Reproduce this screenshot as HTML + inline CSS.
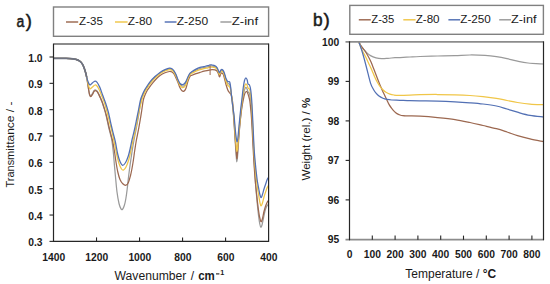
<!DOCTYPE html>
<html><head><meta charset="utf-8"><title>figure</title>
<style>
html,body{margin:0;padding:0;background:#fff;}
body{width:550px;height:284px;overflow:hidden;font-family:"Liberation Sans",sans-serif;}
svg{display:block;}
</style></head><body>
<svg width="550" height="284" viewBox="0 0 550 284">
<rect x="0" y="0" width="550" height="284" fill="#ffffff"/>
<g font-family="&quot;Liberation Sans&quot;, sans-serif">
<text x="16.40" y="26.60" font-size="17.20" font-weight="normal" text-anchor="start" fill="#1a1a1a" textLength="7.80" lengthAdjust="spacingAndGlyphs" stroke="#1a1a1a" stroke-width="0.55">a</text>
<text x="25.80" y="26.50" font-size="18.60" font-weight="normal" text-anchor="start" fill="#1a1a1a" stroke="#1a1a1a" stroke-width="0.45">)</text>
<rect x="53.5" y="7.0" width="215.1" height="29.3" fill="none" stroke="#808080" stroke-width="1.4"/>
<line x1="66.0" y1="22" x2="78.2" y2="22" stroke="#9c6850" stroke-width="1.45"/>
<text x="79.10" y="25.40" font-size="11.60" font-weight="normal" text-anchor="start" fill="#1a1a1a" textLength="23.80" lengthAdjust="spacingAndGlyphs" >Z-35</text>
<line x1="115.0" y1="22" x2="127.6" y2="22" stroke="#f0c648" stroke-width="1.45"/>
<text x="127.80" y="25.40" font-size="11.60" font-weight="normal" text-anchor="start" fill="#1a1a1a" textLength="24.40" lengthAdjust="spacingAndGlyphs" >Z-80</text>
<line x1="164.7" y1="22" x2="176.5" y2="22" stroke="#5270b4" stroke-width="1.45"/>
<text x="176.70" y="25.40" font-size="11.60" font-weight="normal" text-anchor="start" fill="#1a1a1a" textLength="31.40" lengthAdjust="spacingAndGlyphs" >Z-250</text>
<line x1="220.4" y1="22" x2="231.5" y2="22" stroke="#9a9a9a" stroke-width="1.45"/>
<text x="231.70" y="25.40" font-size="11.60" font-weight="normal" text-anchor="start" fill="#1a1a1a" textLength="26.40" lengthAdjust="spacingAndGlyphs" >Z-inf</text>
<clipPath id="ca"><rect x="53.5" y="44" width="215" height="197.4"/></clipPath>
<g clip-path="url(#ca)" fill="none" stroke-width="1.25" stroke-linejoin="round">
<path d="M53.50,58.30 C54.58,58.30 57.92,58.28 60.00,58.30 C62.08,58.32 64.17,58.34 66.00,58.40 C67.83,58.46 69.58,58.53 71.00,58.65 C72.42,58.77 73.45,58.89 74.50,59.10 C75.55,59.31 76.45,59.57 77.30,59.90 C78.15,60.23 78.90,60.62 79.60,61.10 C80.30,61.58 80.93,62.12 81.50,62.80 C82.07,63.48 82.50,64.17 83.00,65.20 C83.50,66.23 84.00,67.53 84.50,69.00 C85.00,70.47 85.58,72.28 86.00,74.00 C86.42,75.72 86.70,77.60 87.00,79.30 C87.30,81.00 87.53,82.48 87.80,84.20 C88.07,85.92 88.32,87.93 88.60,89.60 C88.88,91.27 89.15,93.13 89.50,94.20 C89.85,95.27 90.22,96.10 90.70,96.00 C91.18,95.90 91.85,94.50 92.40,93.60 C92.95,92.70 93.52,91.23 94.00,90.60 C94.48,89.97 94.80,89.75 95.30,89.80 C95.80,89.85 96.43,90.23 97.00,90.90 C97.57,91.57 98.18,92.78 98.70,93.80 C99.22,94.82 99.60,95.80 100.10,97.00 C100.60,98.20 101.08,99.25 101.70,101.00 C102.32,102.75 103.08,105.17 103.80,107.50 C104.52,109.83 105.23,111.92 106.00,115.00 C106.77,118.08 107.67,122.83 108.40,126.00 C109.13,129.17 109.83,131.67 110.40,134.00 C110.97,136.33 111.32,137.00 111.80,140.00 C112.28,143.00 112.87,147.83 113.30,152.00 C113.73,156.17 114.02,160.67 114.40,165.00 C114.78,169.33 115.17,173.50 115.60,178.00 C116.03,182.50 116.43,187.75 117.00,192.00 C117.57,196.25 118.33,200.70 119.00,203.50 C119.67,206.30 120.40,207.85 121.00,208.80 C121.60,209.75 122.05,209.75 122.60,209.20 C123.15,208.65 123.77,207.20 124.30,205.50 C124.83,203.80 125.32,201.75 125.80,199.00 C126.28,196.25 126.77,192.50 127.20,189.00 C127.63,185.50 128.03,181.17 128.40,178.00 C128.77,174.83 129.00,173.00 129.40,170.00 C129.80,167.00 130.32,163.33 130.80,160.00 C131.28,156.67 131.77,153.33 132.30,150.00 C132.83,146.67 133.38,143.33 134.00,140.00 C134.62,136.67 135.33,133.50 136.00,130.00 C136.67,126.50 137.37,122.67 138.00,119.00 C138.63,115.33 139.28,111.17 139.80,108.00 C140.32,104.83 140.57,102.23 141.12,100.00 C141.66,97.77 142.39,96.23 143.05,94.61 C143.71,92.99 144.40,91.53 145.08,90.26 C145.77,89.00 146.34,88.30 147.17,87.04 C148.01,85.78 148.81,84.30 150.11,82.68 C151.41,81.06 153.35,78.91 155.00,77.31 C156.65,75.72 158.33,74.27 160.00,73.10 C161.67,71.94 163.42,71.00 165.00,70.30 C166.58,69.61 168.33,69.06 169.50,68.93 C170.67,68.79 171.25,69.06 172.00,69.50 C172.75,69.95 173.33,70.61 174.00,71.58 C174.67,72.56 175.33,73.88 176.00,75.35 C176.67,76.82 177.33,78.88 178.00,80.39 C178.67,81.91 179.33,83.52 180.00,84.45 C180.67,85.37 181.33,85.77 182.00,85.96 C182.67,86.16 183.33,86.15 184.00,85.64 C184.67,85.13 185.33,84.25 186.00,82.92 C186.67,81.59 187.33,79.15 188.00,77.65 C188.67,76.14 189.33,74.76 190.00,73.88 C190.67,73.01 191.00,73.02 192.00,72.39 C193.00,71.76 194.67,70.74 196.00,70.09 C197.33,69.44 198.67,68.91 200.00,68.50 C201.33,68.09 202.67,67.91 204.00,67.61 C205.33,67.32 207.00,67.00 208.00,66.73 C209.00,66.47 209.33,66.14 210.00,66.02 C210.67,65.90 211.17,65.91 212.00,66.01 C212.83,66.11 214.17,66.23 215.00,66.62 C215.83,67.02 216.42,67.58 217.00,68.39 C217.58,69.21 218.07,70.64 218.50,71.50 C218.93,72.37 219.18,73.76 219.60,73.60 C220.02,73.44 220.43,70.98 221.00,70.55 C221.57,70.12 222.42,70.36 223.00,71.04 C223.58,71.71 224.00,73.14 224.50,74.60 C225.00,76.06 225.45,78.35 226.00,79.82 C226.55,81.29 227.21,82.73 227.80,83.45 C228.39,84.17 229.07,83.44 229.53,84.15 C230.00,84.87 230.27,86.14 230.57,87.76 C230.86,89.38 231.02,91.51 231.31,93.88 C231.60,96.25 231.84,97.31 232.29,102.00 C232.74,106.69 233.50,115.17 234.00,122.00 C234.50,128.83 234.92,137.17 235.30,143.00 C235.68,148.83 236.05,153.87 236.30,157.00 C236.55,160.13 236.60,161.80 236.80,161.80 C237.00,161.80 237.18,160.63 237.50,157.00 C237.82,153.37 238.25,146.00 238.70,140.00 C239.15,134.00 239.68,126.67 240.20,121.00 C240.72,115.33 241.30,110.17 241.80,106.00 C242.30,101.83 242.75,98.70 243.20,96.00 C243.65,93.30 244.05,91.23 244.50,89.80 C244.95,88.37 245.45,87.50 245.90,87.40 C246.35,87.30 246.85,88.43 247.20,89.20 C247.55,89.97 247.67,91.37 248.00,92.00 C248.33,92.63 248.83,92.17 249.20,93.00 C249.57,93.83 249.90,95.17 250.20,97.00 C250.50,98.83 250.72,100.83 251.00,104.00 C251.28,107.17 251.57,110.33 251.90,116.00 C252.23,121.67 252.62,130.33 253.00,138.00 C253.38,145.67 253.77,154.33 254.20,162.00 C254.63,169.67 255.10,177.17 255.60,184.00 C256.10,190.83 256.70,197.67 257.20,203.00 C257.70,208.33 258.17,212.50 258.60,216.00 C259.03,219.50 259.43,222.13 259.80,224.00 C260.17,225.87 260.43,227.03 260.80,227.20 C261.17,227.37 261.57,226.45 262.00,225.00 C262.43,223.55 262.90,220.83 263.40,218.50 C263.90,216.17 264.47,213.00 265.00,211.00 C265.53,209.00 266.00,207.67 266.60,206.50 C267.20,205.33 268.27,204.42 268.60,204.00" stroke="#9a9a9a"/>
<path d="M53.50,58.30 C54.58,58.30 57.92,58.28 60.00,58.30 C62.08,58.32 64.17,58.34 66.00,58.40 C67.83,58.46 69.58,58.53 71.00,58.65 C72.42,58.77 73.45,58.89 74.50,59.10 C75.55,59.31 76.45,59.57 77.30,59.90 C78.15,60.23 78.90,60.62 79.60,61.10 C80.30,61.58 80.93,62.12 81.50,62.80 C82.07,63.48 82.50,64.17 83.00,65.20 C83.50,66.23 84.00,67.53 84.50,69.00 C85.00,70.47 85.57,72.25 86.00,74.00 C86.43,75.75 86.78,77.75 87.10,79.50 C87.42,81.25 87.63,82.75 87.90,84.50 C88.17,86.25 88.42,88.28 88.70,90.00 C88.98,91.72 89.25,93.70 89.60,94.80 C89.95,95.90 90.32,96.67 90.80,96.60 C91.28,96.53 91.95,95.27 92.50,94.40 C93.05,93.53 93.62,92.03 94.10,91.40 C94.58,90.77 94.90,90.55 95.40,90.60 C95.90,90.65 96.53,91.03 97.10,91.70 C97.67,92.37 98.27,93.58 98.80,94.60 C99.33,95.62 99.77,96.65 100.30,97.80 C100.83,98.95 101.35,99.80 102.00,101.50 C102.65,103.20 103.45,105.58 104.20,108.00 C104.95,110.42 105.70,112.83 106.50,116.00 C107.30,119.17 108.25,123.83 109.00,127.00 C109.75,130.17 110.40,132.67 111.00,135.00 C111.60,137.33 112.03,138.33 112.60,141.00 C113.17,143.67 113.83,147.50 114.40,151.00 C114.97,154.50 115.43,158.50 116.00,162.00 C116.57,165.50 117.13,169.08 117.80,172.00 C118.47,174.92 119.17,177.53 120.00,179.50 C120.83,181.47 121.80,182.85 122.80,183.80 C123.80,184.75 125.07,185.42 126.00,185.20 C126.93,184.98 127.67,184.03 128.40,182.50 C129.13,180.97 129.82,178.25 130.40,176.00 C130.98,173.75 131.40,171.67 131.90,169.00 C132.40,166.33 132.92,163.17 133.40,160.00 C133.88,156.83 134.30,153.33 134.80,150.00 C135.30,146.67 135.80,143.33 136.40,140.00 C137.00,136.67 137.77,133.33 138.40,130.00 C139.03,126.67 139.63,123.33 140.20,120.00 C140.77,116.67 141.28,113.33 141.80,110.00 C142.32,106.67 142.77,102.50 143.30,100.00 C143.83,97.50 144.42,96.47 145.00,95.00 C145.58,93.53 146.22,92.27 146.80,91.20 C147.38,90.13 147.88,89.50 148.50,88.60 C149.12,87.70 149.42,87.20 150.50,85.80 C151.58,84.40 153.42,81.90 155.00,80.20 C156.58,78.50 158.33,76.83 160.00,75.60 C161.67,74.37 163.42,73.48 165.00,72.80 C166.58,72.12 168.33,71.63 169.50,71.50 C170.67,71.37 171.25,71.58 172.00,72.00 C172.75,72.42 173.33,73.00 174.00,74.00 C174.67,75.00 175.33,76.58 176.00,78.00 C176.67,79.42 177.33,80.87 178.00,82.50 C178.67,84.13 179.33,86.42 180.00,87.80 C180.67,89.18 181.33,90.25 182.00,90.80 C182.67,91.35 183.33,91.52 184.00,91.10 C184.67,90.68 185.33,89.98 186.00,88.30 C186.67,86.62 187.33,83.00 188.00,81.00 C188.67,79.00 189.33,77.27 190.00,76.30 C190.67,75.33 191.00,75.65 192.00,75.20 C193.00,74.75 194.67,74.07 196.00,73.60 C197.33,73.13 198.67,72.80 200.00,72.40 C201.33,72.00 202.67,71.53 204.00,71.20 C205.33,70.87 207.00,70.60 208.00,70.40 C209.00,70.20 209.33,70.13 210.00,70.00 C210.67,69.87 211.17,69.62 212.00,69.60 C212.83,69.58 214.17,69.63 215.00,69.90 C215.83,70.17 216.42,70.52 217.00,71.20 C217.58,71.88 218.07,73.07 218.50,74.00 C218.93,74.93 219.18,76.93 219.60,76.80 C220.02,76.67 220.43,73.67 221.00,73.20 C221.57,72.73 222.42,73.12 223.00,74.00 C223.58,74.88 224.00,76.75 224.50,78.50 C225.00,80.25 225.45,82.58 226.00,84.50 C226.55,86.42 227.25,88.67 227.80,90.00 C228.35,91.33 228.80,91.83 229.30,92.50 C229.80,93.17 230.40,93.25 230.80,94.00 C231.20,94.75 231.40,95.67 231.70,97.00 C232.00,98.33 232.22,98.00 232.60,102.00 C232.98,106.00 233.55,114.67 234.00,121.00 C234.45,127.33 234.92,134.67 235.30,140.00 C235.68,145.33 236.05,149.92 236.30,153.00 C236.55,156.08 236.62,158.33 236.80,158.50 C236.98,158.67 237.10,157.42 237.40,154.00 C237.70,150.58 238.13,143.50 238.60,138.00 C239.07,132.50 239.67,126.00 240.20,121.00 C240.73,116.00 241.28,111.58 241.80,108.00 C242.32,104.42 242.80,101.90 243.30,99.50 C243.80,97.10 244.30,94.93 244.80,93.60 C245.30,92.27 245.83,91.60 246.30,91.50 C246.77,91.40 247.18,92.17 247.60,93.00 C248.02,93.83 248.43,95.17 248.80,96.50 C249.17,97.83 249.50,99.08 249.80,101.00 C250.10,102.92 250.32,105.17 250.60,108.00 C250.88,110.83 251.17,113.00 251.50,118.00 C251.83,123.00 252.22,131.00 252.60,138.00 C252.98,145.00 253.37,153.00 253.80,160.00 C254.23,167.00 254.70,174.00 255.20,180.00 C255.70,186.00 256.30,191.33 256.80,196.00 C257.30,200.67 257.73,204.50 258.20,208.00 C258.67,211.50 259.12,214.70 259.60,217.00 C260.08,219.30 260.62,221.55 261.10,221.80 C261.58,222.05 262.02,220.22 262.50,218.50 C262.98,216.78 263.48,213.58 264.00,211.50 C264.52,209.42 265.07,207.55 265.60,206.00 C266.13,204.45 266.70,203.12 267.20,202.20 C267.70,201.28 268.37,200.78 268.60,200.50" stroke="#9c6850"/>
<path d="M53.50,58.30 C54.58,58.30 57.92,58.28 60.00,58.30 C62.08,58.32 64.17,58.34 66.00,58.40 C67.83,58.46 69.58,58.53 71.00,58.65 C72.42,58.77 73.45,58.89 74.50,59.10 C75.55,59.31 76.45,59.57 77.30,59.90 C78.15,60.23 78.90,60.62 79.60,61.10 C80.30,61.58 80.93,62.12 81.50,62.80 C82.07,63.48 82.50,64.17 83.00,65.20 C83.50,66.23 84.00,67.53 84.50,69.00 C85.00,70.47 85.55,72.25 86.00,74.00 C86.45,75.75 86.83,77.83 87.20,79.50 C87.57,81.17 87.87,82.65 88.20,84.00 C88.53,85.35 88.83,86.80 89.20,87.60 C89.57,88.40 89.85,88.90 90.40,88.80 C90.95,88.70 91.73,87.63 92.50,87.00 C93.27,86.37 94.25,85.17 95.00,85.00 C95.75,84.83 96.37,85.33 97.00,86.00 C97.63,86.67 98.27,88.00 98.80,89.00 C99.33,90.00 99.70,90.83 100.20,92.00 C100.70,93.17 101.08,94.17 101.80,96.00 C102.52,97.83 103.58,100.17 104.50,103.00 C105.42,105.83 106.33,109.33 107.30,113.00 C108.27,116.67 109.43,121.50 110.30,125.00 C111.17,128.50 111.85,131.17 112.50,134.00 C113.15,136.83 113.52,138.67 114.20,142.00 C114.88,145.33 115.80,150.42 116.60,154.00 C117.40,157.58 118.18,161.00 119.00,163.50 C119.82,166.00 120.73,167.92 121.50,169.00 C122.27,170.08 122.85,170.33 123.60,170.00 C124.35,169.67 125.15,168.67 126.00,167.00 C126.85,165.33 127.90,162.67 128.70,160.00 C129.50,157.33 130.13,154.00 130.80,151.00 C131.47,148.00 132.07,144.83 132.70,142.00 C133.33,139.17 133.95,137.00 134.60,134.00 C135.25,131.00 135.93,127.50 136.60,124.00 C137.27,120.50 137.74,117.00 138.60,113.00 C139.46,109.00 140.92,103.05 141.76,100.00 C142.60,96.95 142.99,96.30 143.62,94.72 C144.26,93.15 144.93,91.74 145.59,90.54 C146.25,89.34 146.79,88.66 147.56,87.50 C148.34,86.34 148.99,85.16 150.22,83.60 C151.46,82.04 153.37,79.79 155.00,78.17 C156.63,76.54 158.33,75.03 160.00,73.84 C161.67,72.65 163.42,71.73 165.00,71.04 C166.58,70.35 168.33,69.82 169.50,69.69 C170.67,69.55 171.25,69.80 172.00,70.24 C172.75,70.67 173.33,71.31 174.00,72.30 C174.67,73.28 175.33,74.68 176.00,76.13 C176.67,77.58 177.33,79.46 178.00,81.02 C178.67,82.57 179.33,84.37 180.00,85.44 C180.67,86.50 181.33,87.09 182.00,87.39 C182.67,87.69 183.33,87.73 184.00,87.25 C184.67,86.77 185.33,85.94 186.00,84.50 C186.67,83.07 187.33,80.29 188.00,78.64 C188.67,76.98 189.33,75.50 190.00,74.59 C190.67,73.69 191.00,73.80 192.00,73.22 C193.00,72.64 194.67,71.72 196.00,71.12 C197.33,70.53 198.67,70.06 200.00,69.65 C201.33,69.24 202.67,68.98 204.00,68.67 C205.33,68.36 207.00,68.06 208.00,67.81 C209.00,67.57 209.33,67.32 210.00,67.20 C210.67,67.07 211.17,67.00 212.00,67.07 C212.83,67.14 214.17,67.23 215.00,67.59 C215.83,67.95 216.42,68.44 217.00,69.22 C217.58,70.00 218.07,71.35 218.50,72.24 C218.93,73.13 219.18,74.70 219.60,74.55 C220.02,74.39 220.43,71.77 221.00,71.33 C221.57,70.89 222.42,71.17 223.00,71.91 C223.58,72.65 224.00,74.20 224.50,75.75 C225.00,77.30 225.45,79.59 226.00,81.20 C226.55,82.81 227.22,84.48 227.80,85.38 C228.38,86.28 228.99,85.91 229.47,86.61 C229.94,87.32 230.31,88.24 230.63,89.60 C230.96,90.96 231.13,92.73 231.42,94.80 C231.72,96.87 231.95,98.13 232.38,102.00 C232.81,105.87 233.51,112.33 234.00,118.00 C234.49,123.67 234.90,131.00 235.30,136.00 C235.70,141.00 236.13,145.42 236.40,148.00 C236.67,150.58 236.70,151.50 236.90,151.50 C237.10,151.50 237.28,151.08 237.60,148.00 C237.92,144.92 238.33,138.33 238.80,133.00 C239.27,127.67 239.90,120.83 240.40,116.00 C240.90,111.17 241.33,107.83 241.80,104.00 C242.27,100.17 242.75,95.93 243.20,93.00 C243.65,90.07 244.05,87.93 244.50,86.40 C244.95,84.87 245.45,83.95 245.90,83.80 C246.35,83.65 246.85,84.80 247.20,85.50 C247.55,86.20 247.65,87.42 248.00,88.00 C248.35,88.58 248.93,88.33 249.30,89.00 C249.67,89.67 249.92,90.50 250.20,92.00 C250.48,93.50 250.73,95.33 251.00,98.00 C251.27,100.67 251.50,103.00 251.80,108.00 C252.10,113.00 252.43,120.67 252.80,128.00 C253.17,135.33 253.57,145.00 254.00,152.00 C254.43,159.00 254.87,164.33 255.40,170.00 C255.93,175.67 256.63,181.67 257.20,186.00 C257.77,190.33 258.33,193.17 258.80,196.00 C259.27,198.83 259.62,201.33 260.00,203.00 C260.38,204.67 260.72,205.92 261.10,206.00 C261.48,206.08 261.82,205.00 262.30,203.50 C262.78,202.00 263.45,198.92 264.00,197.00 C264.55,195.08 265.07,193.57 265.60,192.00 C266.13,190.43 266.70,188.77 267.20,187.60 C267.70,186.43 268.37,185.43 268.60,185.00" stroke="#f0c648"/>
<path d="M53.50,58.30 C54.58,58.30 57.92,58.28 60.00,58.30 C62.08,58.32 64.17,58.34 66.00,58.40 C67.83,58.46 69.58,58.53 71.00,58.65 C72.42,58.77 73.45,58.89 74.50,59.10 C75.55,59.31 76.45,59.57 77.30,59.90 C78.15,60.23 78.90,60.62 79.60,61.10 C80.30,61.58 80.93,62.12 81.50,62.80 C82.07,63.48 82.50,64.17 83.00,65.20 C83.50,66.23 84.00,67.53 84.50,69.00 C85.00,70.47 85.53,72.28 86.00,74.00 C86.47,75.72 86.90,77.87 87.30,79.30 C87.70,80.73 88.05,81.75 88.40,82.60 C88.75,83.45 89.07,84.02 89.40,84.40 C89.73,84.78 89.88,85.17 90.40,84.90 C90.92,84.63 91.73,83.43 92.50,82.80 C93.27,82.17 94.23,81.18 95.00,81.10 C95.77,81.02 96.47,81.60 97.10,82.30 C97.73,83.00 98.27,84.27 98.80,85.30 C99.33,86.33 99.67,86.88 100.30,88.50 C100.93,90.12 101.75,92.67 102.60,95.00 C103.45,97.33 104.45,99.67 105.40,102.50 C106.35,105.33 107.33,108.25 108.30,112.00 C109.27,115.75 110.35,121.33 111.20,125.00 C112.05,128.67 112.70,131.17 113.40,134.00 C114.10,136.83 114.68,138.67 115.40,142.00 C116.12,145.33 116.93,150.75 117.70,154.00 C118.47,157.25 119.18,159.62 120.00,161.50 C120.82,163.38 121.67,165.13 122.60,165.30 C123.53,165.47 124.65,164.05 125.60,162.50 C126.55,160.95 127.52,158.42 128.30,156.00 C129.08,153.58 129.65,150.83 130.30,148.00 C130.95,145.17 131.52,142.00 132.20,139.00 C132.88,136.00 133.68,133.17 134.40,130.00 C135.12,126.83 135.82,123.33 136.50,120.00 C137.18,116.67 137.83,113.33 138.50,110.00 C139.17,106.67 139.83,102.58 140.50,100.00 C141.17,97.42 141.82,96.17 142.50,94.50 C143.18,92.83 143.88,91.32 144.60,90.00 C145.32,88.68 145.90,87.97 146.80,86.60 C147.70,85.23 148.63,83.48 150.00,81.80 C151.37,80.12 153.33,78.07 155.00,76.50 C156.67,74.93 158.33,73.55 160.00,72.40 C161.67,71.25 163.42,70.30 165.00,69.60 C166.58,68.90 168.33,68.33 169.50,68.20 C170.67,68.07 171.25,68.35 172.00,68.80 C172.75,69.25 173.33,69.93 174.00,70.90 C174.67,71.87 175.33,73.12 176.00,74.60 C176.67,76.08 177.33,78.32 178.00,79.80 C178.67,81.28 179.33,82.70 180.00,83.50 C180.67,84.30 181.33,84.50 182.00,84.60 C182.67,84.70 183.33,84.63 184.00,84.10 C184.67,83.57 185.33,82.63 186.00,81.40 C186.67,80.17 187.33,78.07 188.00,76.70 C188.67,75.33 189.33,74.05 190.00,73.20 C190.67,72.35 191.00,72.28 192.00,71.60 C193.00,70.92 194.67,69.80 196.00,69.10 C197.33,68.40 198.67,67.82 200.00,67.40 C201.33,66.98 202.67,66.88 204.00,66.60 C205.33,66.32 207.00,65.98 208.00,65.70 C209.00,65.42 209.33,65.02 210.00,64.90 C210.67,64.78 211.17,64.87 212.00,65.00 C212.83,65.13 214.17,65.27 215.00,65.70 C215.83,66.13 216.42,66.75 217.00,67.60 C217.58,68.45 218.07,69.95 218.50,70.80 C218.93,71.65 219.18,72.87 219.60,72.70 C220.02,72.53 220.43,70.22 221.00,69.80 C221.57,69.38 222.42,69.58 223.00,70.20 C223.58,70.82 224.00,72.12 224.50,73.50 C225.00,74.88 225.45,77.15 226.00,78.50 C226.55,79.85 227.20,81.05 227.80,81.60 C228.40,82.15 229.15,81.07 229.60,81.80 C230.05,82.53 230.23,84.13 230.50,86.00 C230.77,87.87 230.92,90.33 231.20,93.00 C231.48,95.67 231.73,98.33 232.20,102.00 C232.67,105.67 233.48,110.33 234.00,115.00 C234.52,119.67 234.90,126.00 235.30,130.00 C235.70,134.00 236.12,137.03 236.40,139.00 C236.68,140.97 236.77,141.80 237.00,141.80 C237.23,141.80 237.47,141.63 237.80,139.00 C238.13,136.37 238.53,130.83 239.00,126.00 C239.47,121.17 240.13,114.33 240.60,110.00 C241.07,105.67 241.37,103.67 241.80,100.00 C242.23,96.33 242.75,91.25 243.20,88.00 C243.65,84.75 244.05,82.20 244.50,80.50 C244.95,78.80 245.45,77.88 245.90,77.80 C246.35,77.72 246.85,78.97 247.20,80.00 C247.55,81.03 247.65,83.22 248.00,84.00 C248.35,84.78 248.90,84.03 249.30,84.70 C249.70,85.37 250.07,86.28 250.40,88.00 C250.73,89.72 251.03,92.17 251.30,95.00 C251.57,97.83 251.72,100.00 252.00,105.00 C252.28,110.00 252.63,117.50 253.00,125.00 C253.37,132.50 253.78,143.33 254.20,150.00 C254.62,156.67 255.00,160.00 255.50,165.00 C256.00,170.00 256.65,176.00 257.20,180.00 C257.75,184.00 258.33,186.50 258.80,189.00 C259.27,191.50 259.62,193.57 260.00,195.00 C260.38,196.43 260.72,197.60 261.10,197.60 C261.48,197.60 261.82,196.43 262.30,195.00 C262.78,193.57 263.45,190.80 264.00,189.00 C264.55,187.20 265.07,185.77 265.60,184.20 C266.13,182.63 266.70,180.77 267.20,179.60 C267.70,178.43 268.37,177.60 268.60,177.20" stroke="#5270b4"/>
<path d="M53.50,58.30 C54.58,58.30 57.92,58.28 60.00,58.30 C62.08,58.32 64.17,58.34 66.00,58.40 C67.83,58.46 69.58,58.53 71.00,58.65 C72.42,58.77 73.45,58.89 74.50,59.10 C75.55,59.31 76.45,59.57 77.30,59.90 C78.15,60.23 78.90,60.62 79.60,61.10 C80.30,61.58 80.93,62.12 81.50,62.80 C82.07,63.48 82.50,64.17 83.00,65.20 C83.50,66.23 84.00,67.53 84.50,69.00 C85.00,70.47 85.65,72.67 86.00,74.00 C86.35,75.33 86.50,76.50 86.60,77.00" stroke="#6f7380" stroke-width="1.7"/>
<line x1="210.1" y1="65.5" x2="210.1" y2="75.0" stroke="#9c6850" stroke-width="1"/>
</g>
<line x1="53.5" y1="44" x2="268.6" y2="44" stroke="#8c8c8c" stroke-width="1.9"/>
<line x1="53.5" y1="43.6" x2="53.5" y2="241.4" stroke="#262626" stroke-width="1.2"/>
<line x1="268.6" y1="43.6" x2="268.6" y2="241.4" stroke="#262626" stroke-width="1.2"/>
<line x1="53" y1="241.4" x2="269.1" y2="241.4" stroke="#262626" stroke-width="1.2"/>
<line x1="49.5" y1="57.00" x2="53.5" y2="57.00" stroke="#262626" stroke-width="1.1"/>
<text x="42.60" y="61.90" font-size="10.30" font-weight="bold" text-anchor="end" fill="#1a1a1a" >1.0</text>
<line x1="49.5" y1="83.34" x2="53.5" y2="83.34" stroke="#262626" stroke-width="1.1"/>
<text x="42.60" y="88.24" font-size="10.30" font-weight="bold" text-anchor="end" fill="#1a1a1a" >0.9</text>
<line x1="49.5" y1="109.68" x2="53.5" y2="109.68" stroke="#262626" stroke-width="1.1"/>
<text x="42.60" y="114.58" font-size="10.30" font-weight="bold" text-anchor="end" fill="#1a1a1a" >0.8</text>
<line x1="49.5" y1="136.02" x2="53.5" y2="136.02" stroke="#262626" stroke-width="1.1"/>
<text x="42.60" y="140.92" font-size="10.30" font-weight="bold" text-anchor="end" fill="#1a1a1a" >0.7</text>
<line x1="49.5" y1="162.36" x2="53.5" y2="162.36" stroke="#262626" stroke-width="1.1"/>
<text x="42.60" y="167.26" font-size="10.30" font-weight="bold" text-anchor="end" fill="#1a1a1a" >0.6</text>
<line x1="49.5" y1="188.70" x2="53.5" y2="188.70" stroke="#262626" stroke-width="1.1"/>
<text x="42.60" y="193.60" font-size="10.30" font-weight="bold" text-anchor="end" fill="#1a1a1a" >0.5</text>
<line x1="49.5" y1="215.04" x2="53.5" y2="215.04" stroke="#262626" stroke-width="1.1"/>
<text x="42.60" y="219.94" font-size="10.30" font-weight="bold" text-anchor="end" fill="#1a1a1a" >0.4</text>
<line x1="49.5" y1="241.38" x2="53.5" y2="241.38" stroke="#262626" stroke-width="1.1"/>
<text x="42.60" y="246.28" font-size="10.30" font-weight="bold" text-anchor="end" fill="#1a1a1a" >0.3</text>
<text x="53.80" y="260.90" font-size="10.30" font-weight="bold" text-anchor="middle" fill="#1a1a1a" >1400</text>
<line x1="96.52" y1="237.4" x2="96.52" y2="241.4" stroke="#262626" stroke-width="1.1"/>
<text x="96.82" y="260.90" font-size="10.30" font-weight="bold" text-anchor="middle" fill="#1a1a1a" >1200</text>
<line x1="139.54" y1="237.4" x2="139.54" y2="241.4" stroke="#262626" stroke-width="1.1"/>
<text x="139.84" y="260.90" font-size="10.30" font-weight="bold" text-anchor="middle" fill="#1a1a1a" >1000</text>
<line x1="182.56" y1="237.4" x2="182.56" y2="241.4" stroke="#262626" stroke-width="1.1"/>
<text x="182.86" y="260.90" font-size="10.30" font-weight="bold" text-anchor="middle" fill="#1a1a1a" >800</text>
<line x1="225.58" y1="237.4" x2="225.58" y2="241.4" stroke="#262626" stroke-width="1.1"/>
<text x="225.88" y="260.90" font-size="10.30" font-weight="bold" text-anchor="middle" fill="#1a1a1a" >600</text>
<text x="268.90" y="260.90" font-size="10.30" font-weight="bold" text-anchor="middle" fill="#1a1a1a" >400</text>
<text x="114.60" y="279.90" font-size="12.00" font-weight="normal" text-anchor="start" fill="#1a1a1a" textLength="71.80" lengthAdjust="spacingAndGlyphs" >Wavenumber</text>
<text x="190.80" y="279.90" font-size="12.00" font-weight="normal" text-anchor="start" fill="#1a1a1a" >/</text>
<text x="198.20" y="279.70" font-size="12.00" font-weight="bold" text-anchor="start" fill="#1a1a1a" textLength="16.60" lengthAdjust="spacingAndGlyphs" >cm</text>
<line x1="216.0" y1="273.9" x2="219.4" y2="273.9" stroke="#1a1a1a" stroke-width="1.1"/>
<text x="220.30" y="275.40" font-size="7.20" font-weight="bold" text-anchor="start" fill="#1a1a1a" >1</text>
<text transform="translate(13.7,187.4) rotate(-90)" x="0" y="0" font-size="11.5" fill="#1a1a1a" textLength="36.6" lengthAdjust="spacingAndGlyphs">Transm</text>
<text transform="translate(13.7,150.8) rotate(-90)" x="0" y="0" font-size="11.5" fill="#1a1a1a" textLength="49.2" lengthAdjust="spacingAndGlyphs">ittance / -</text>
<text x="313.00" y="25.70" font-size="19.00" font-weight="normal" text-anchor="start" fill="#1a1a1a" textLength="9.60" lengthAdjust="spacingAndGlyphs" stroke="#1a1a1a" stroke-width="0.55">b</text>
<text x="323.40" y="25.60" font-size="19.00" font-weight="normal" text-anchor="start" fill="#1a1a1a" stroke="#1a1a1a" stroke-width="0.45">)</text>
<rect x="349.8" y="5.4" width="193.6" height="28.9" fill="none" stroke="#808080" stroke-width="1.4"/>
<line x1="358.8" y1="19.8" x2="370.8" y2="19.8" stroke="#9c6850" stroke-width="1.45"/>
<text x="371.30" y="23.30" font-size="11.60" font-weight="normal" text-anchor="start" fill="#1a1a1a" textLength="23.00" lengthAdjust="spacingAndGlyphs" >Z-35</text>
<line x1="403.3" y1="19.8" x2="415.6" y2="19.8" stroke="#f0c648" stroke-width="1.45"/>
<text x="415.70" y="23.30" font-size="11.60" font-weight="normal" text-anchor="start" fill="#1a1a1a" textLength="23.90" lengthAdjust="spacingAndGlyphs" >Z-80</text>
<line x1="448.4" y1="19.8" x2="460.2" y2="19.8" stroke="#5270b4" stroke-width="1.45"/>
<text x="460.30" y="23.30" font-size="11.60" font-weight="normal" text-anchor="start" fill="#1a1a1a" textLength="30.60" lengthAdjust="spacingAndGlyphs" >Z-250</text>
<line x1="499.2" y1="19.8" x2="511.0" y2="19.8" stroke="#9a9a9a" stroke-width="1.45"/>
<text x="511.10" y="23.30" font-size="11.60" font-weight="normal" text-anchor="start" fill="#1a1a1a" textLength="25.40" lengthAdjust="spacingAndGlyphs" >Z-inf</text>
<clipPath id="cb"><rect x="349.5" y="41.9" width="194" height="197.6"/></clipPath>
<g clip-path="url(#cb)" fill="none" stroke-width="1.25" stroke-linejoin="round">
<path d="M358.90,42.20 C359.25,42.80 360.23,44.63 361.00,45.80 C361.77,46.97 362.62,48.12 363.50,49.20 C364.38,50.28 365.13,51.23 366.30,52.30 C367.47,53.37 368.88,54.68 370.50,55.60 C372.12,56.52 374.13,57.30 376.00,57.80 C377.87,58.30 379.70,58.52 381.70,58.60 C383.70,58.68 385.78,58.45 388.00,58.30 C390.22,58.15 393.00,57.82 395.00,57.70 C397.00,57.58 397.50,57.72 400.00,57.60 C402.50,57.48 406.67,57.18 410.00,57.00 C413.33,56.82 415.42,56.67 420.00,56.50 C424.58,56.33 431.67,56.15 437.50,56.00 C443.33,55.85 449.58,55.77 455.00,55.60 C460.42,55.43 465.00,55.03 470.00,55.00 C475.00,54.97 480.60,55.13 485.00,55.40 C489.40,55.67 492.73,56.07 496.40,56.60 C500.07,57.13 503.48,57.83 507.00,58.60 C510.52,59.37 514.00,60.47 517.50,61.20 C521.00,61.93 523.67,62.53 528.00,63.00 C532.33,63.47 540.92,63.83 543.50,64.00" stroke="#9a9a9a"/>
<path d="M358.90,42.20 C359.33,42.92 360.48,45.03 361.50,46.50 C362.52,47.97 363.92,49.42 365.00,51.00 C366.08,52.58 367.03,54.25 368.00,56.00 C368.97,57.75 370.03,59.83 370.80,61.50 C371.57,63.17 372.03,64.58 372.60,66.00 C373.17,67.42 373.55,68.33 374.20,70.00 C374.85,71.67 375.73,74.00 376.50,76.00 C377.27,78.00 378.03,80.07 378.80,82.00 C379.57,83.93 380.27,85.68 381.10,87.60 C381.93,89.52 382.92,91.60 383.80,93.50 C384.68,95.40 385.53,97.18 386.40,99.00 C387.27,100.82 388.12,102.83 389.00,104.40 C389.88,105.97 390.78,107.20 391.70,108.40 C392.62,109.60 393.62,110.73 394.50,111.60 C395.38,112.47 396.08,113.03 397.00,113.60 C397.92,114.17 399.00,114.65 400.00,115.00 C401.00,115.35 402.00,115.55 403.00,115.70 C404.00,115.85 404.83,115.87 406.00,115.90 C407.17,115.93 407.67,115.85 410.00,115.90 C412.33,115.95 415.42,115.92 420.00,116.20 C424.58,116.48 431.67,117.03 437.50,117.60 C443.33,118.17 449.58,118.78 455.00,119.60 C460.42,120.42 465.33,121.52 470.00,122.50 C474.67,123.48 478.60,124.47 483.00,125.50 C487.40,126.53 492.40,127.62 496.40,128.70 C500.40,129.78 503.48,130.85 507.00,132.00 C510.52,133.15 513.67,134.47 517.50,135.60 C521.33,136.73 525.67,137.80 530.00,138.80 C534.33,139.80 541.25,141.13 543.50,141.60" stroke="#9c6850"/>
<path d="M358.90,42.20 C359.13,42.83 359.75,44.62 360.30,46.00 C360.85,47.38 361.38,48.83 362.20,50.50 C363.02,52.17 364.15,53.92 365.20,56.00 C366.25,58.08 367.40,60.67 368.50,63.00 C369.60,65.33 370.80,67.75 371.80,70.00 C372.80,72.25 373.60,74.50 374.50,76.50 C375.40,78.50 376.28,80.33 377.20,82.00 C378.12,83.67 379.05,85.22 380.00,86.50 C380.95,87.78 381.90,88.73 382.90,89.70 C383.90,90.67 384.83,91.57 386.00,92.30 C387.17,93.03 388.57,93.65 389.90,94.10 C391.23,94.55 392.53,94.80 394.00,95.00 C395.47,95.20 396.03,95.28 398.70,95.30 C401.37,95.32 406.45,95.20 410.00,95.10 C413.55,95.00 415.42,94.80 420.00,94.70 C424.58,94.60 431.67,94.48 437.50,94.50 C443.33,94.52 449.58,94.63 455.00,94.80 C460.42,94.97 465.33,95.18 470.00,95.50 C474.67,95.82 478.60,96.22 483.00,96.70 C487.40,97.18 492.40,97.77 496.40,98.40 C500.40,99.03 503.48,99.82 507.00,100.50 C510.52,101.18 513.67,101.90 517.50,102.50 C521.33,103.10 525.67,103.73 530.00,104.10 C534.33,104.47 541.25,104.60 543.50,104.70" stroke="#f0c648"/>
<path d="M358.90,42.20 C359.33,43.42 360.65,46.87 361.50,49.50 C362.35,52.13 363.08,54.67 364.00,58.00 C364.92,61.33 365.90,65.27 367.00,69.50 C368.10,73.73 369.52,80.07 370.60,83.40 C371.68,86.73 372.63,87.93 373.50,89.50 C374.37,91.07 374.88,91.72 375.80,92.80 C376.72,93.88 377.82,95.10 379.00,96.00 C380.18,96.90 381.57,97.63 382.90,98.20 C384.23,98.77 385.53,99.10 387.00,99.40 C388.47,99.70 389.53,99.85 391.70,100.00 C393.87,100.15 396.95,100.18 400.00,100.30 C403.05,100.42 406.67,100.60 410.00,100.70 C413.33,100.80 415.42,100.83 420.00,100.90 C424.58,100.97 431.67,100.95 437.50,101.10 C443.33,101.25 449.58,101.52 455.00,101.80 C460.42,102.08 465.33,102.43 470.00,102.80 C474.67,103.17 478.60,103.47 483.00,104.00 C487.40,104.53 492.40,105.17 496.40,106.00 C500.40,106.83 503.48,107.97 507.00,109.00 C510.52,110.03 513.67,111.13 517.50,112.20 C521.33,113.27 525.67,114.60 530.00,115.40 C534.33,116.20 541.25,116.73 543.50,117.00" stroke="#5270b4"/>
</g>
<line x1="345.5" y1="41.9" x2="543.5" y2="41.9" stroke="#8c8c8c" stroke-width="1.9"/>
<line x1="345.5" y1="239.6" x2="543.5" y2="239.6" stroke="#8c8c8c" stroke-width="1.9"/>
<text x="339.20" y="45.90" font-size="10.30" font-weight="bold" text-anchor="end" fill="#1a1a1a" >100</text>
<line x1="345.6" y1="81.40" x2="349.5" y2="81.40" stroke="#262626" stroke-width="1.1"/>
<text x="339.20" y="85.40" font-size="10.30" font-weight="bold" text-anchor="end" fill="#1a1a1a" >99</text>
<line x1="345.6" y1="120.90" x2="349.5" y2="120.90" stroke="#262626" stroke-width="1.1"/>
<text x="339.20" y="124.90" font-size="10.30" font-weight="bold" text-anchor="end" fill="#1a1a1a" >98</text>
<line x1="345.6" y1="160.40" x2="349.5" y2="160.40" stroke="#262626" stroke-width="1.1"/>
<text x="339.20" y="164.40" font-size="10.30" font-weight="bold" text-anchor="end" fill="#1a1a1a" >97</text>
<line x1="345.6" y1="199.90" x2="349.5" y2="199.90" stroke="#262626" stroke-width="1.1"/>
<text x="339.20" y="203.90" font-size="10.30" font-weight="bold" text-anchor="end" fill="#1a1a1a" >96</text>
<text x="339.20" y="243.40" font-size="10.30" font-weight="bold" text-anchor="end" fill="#1a1a1a" >95</text>
<line x1="349.5" y1="41.3" x2="349.5" y2="240.3" stroke="#262626" stroke-width="1.2"/>
<line x1="543.5" y1="41.3" x2="543.5" y2="240.3" stroke="#262626" stroke-width="1.2"/>
<text x="349.50" y="258.40" font-size="10.30" font-weight="bold" text-anchor="middle" fill="#1a1a1a" >0</text>
<line x1="372.30" y1="235.6" x2="372.30" y2="239.8" stroke="#262626" stroke-width="1.1"/>
<text x="372.30" y="258.40" font-size="10.30" font-weight="bold" text-anchor="middle" fill="#1a1a1a" >100</text>
<line x1="395.10" y1="235.6" x2="395.10" y2="239.8" stroke="#262626" stroke-width="1.1"/>
<text x="395.10" y="258.40" font-size="10.30" font-weight="bold" text-anchor="middle" fill="#1a1a1a" >200</text>
<line x1="417.90" y1="235.6" x2="417.90" y2="239.8" stroke="#262626" stroke-width="1.1"/>
<text x="417.90" y="258.40" font-size="10.30" font-weight="bold" text-anchor="middle" fill="#1a1a1a" >300</text>
<line x1="440.70" y1="235.6" x2="440.70" y2="239.8" stroke="#262626" stroke-width="1.1"/>
<text x="440.70" y="258.40" font-size="10.30" font-weight="bold" text-anchor="middle" fill="#1a1a1a" >400</text>
<line x1="463.50" y1="235.6" x2="463.50" y2="239.8" stroke="#262626" stroke-width="1.1"/>
<text x="463.50" y="258.40" font-size="10.30" font-weight="bold" text-anchor="middle" fill="#1a1a1a" >500</text>
<line x1="486.30" y1="235.6" x2="486.30" y2="239.8" stroke="#262626" stroke-width="1.1"/>
<text x="486.30" y="258.40" font-size="10.30" font-weight="bold" text-anchor="middle" fill="#1a1a1a" >600</text>
<line x1="509.10" y1="235.6" x2="509.10" y2="239.8" stroke="#262626" stroke-width="1.1"/>
<text x="509.10" y="258.40" font-size="10.30" font-weight="bold" text-anchor="middle" fill="#1a1a1a" >700</text>
<line x1="531.90" y1="235.6" x2="531.90" y2="239.8" stroke="#262626" stroke-width="1.1"/>
<text x="531.90" y="258.40" font-size="10.30" font-weight="bold" text-anchor="middle" fill="#1a1a1a" >800</text>
<text x="405.3" y="278.0" font-size="12" fill="#1a1a1a">Temperature / <tspan font-weight="bold">&#176;C</tspan></text>
<text transform="translate(309.8,180.6) rotate(-90)" x="0" y="0" font-size="11.5" fill="#1a1a1a" textLength="82.9" lengthAdjust="spacingAndGlyphs">Weight (rel.) / <tspan font-weight="bold">%</tspan></text>
</g></svg>
</body></html>
